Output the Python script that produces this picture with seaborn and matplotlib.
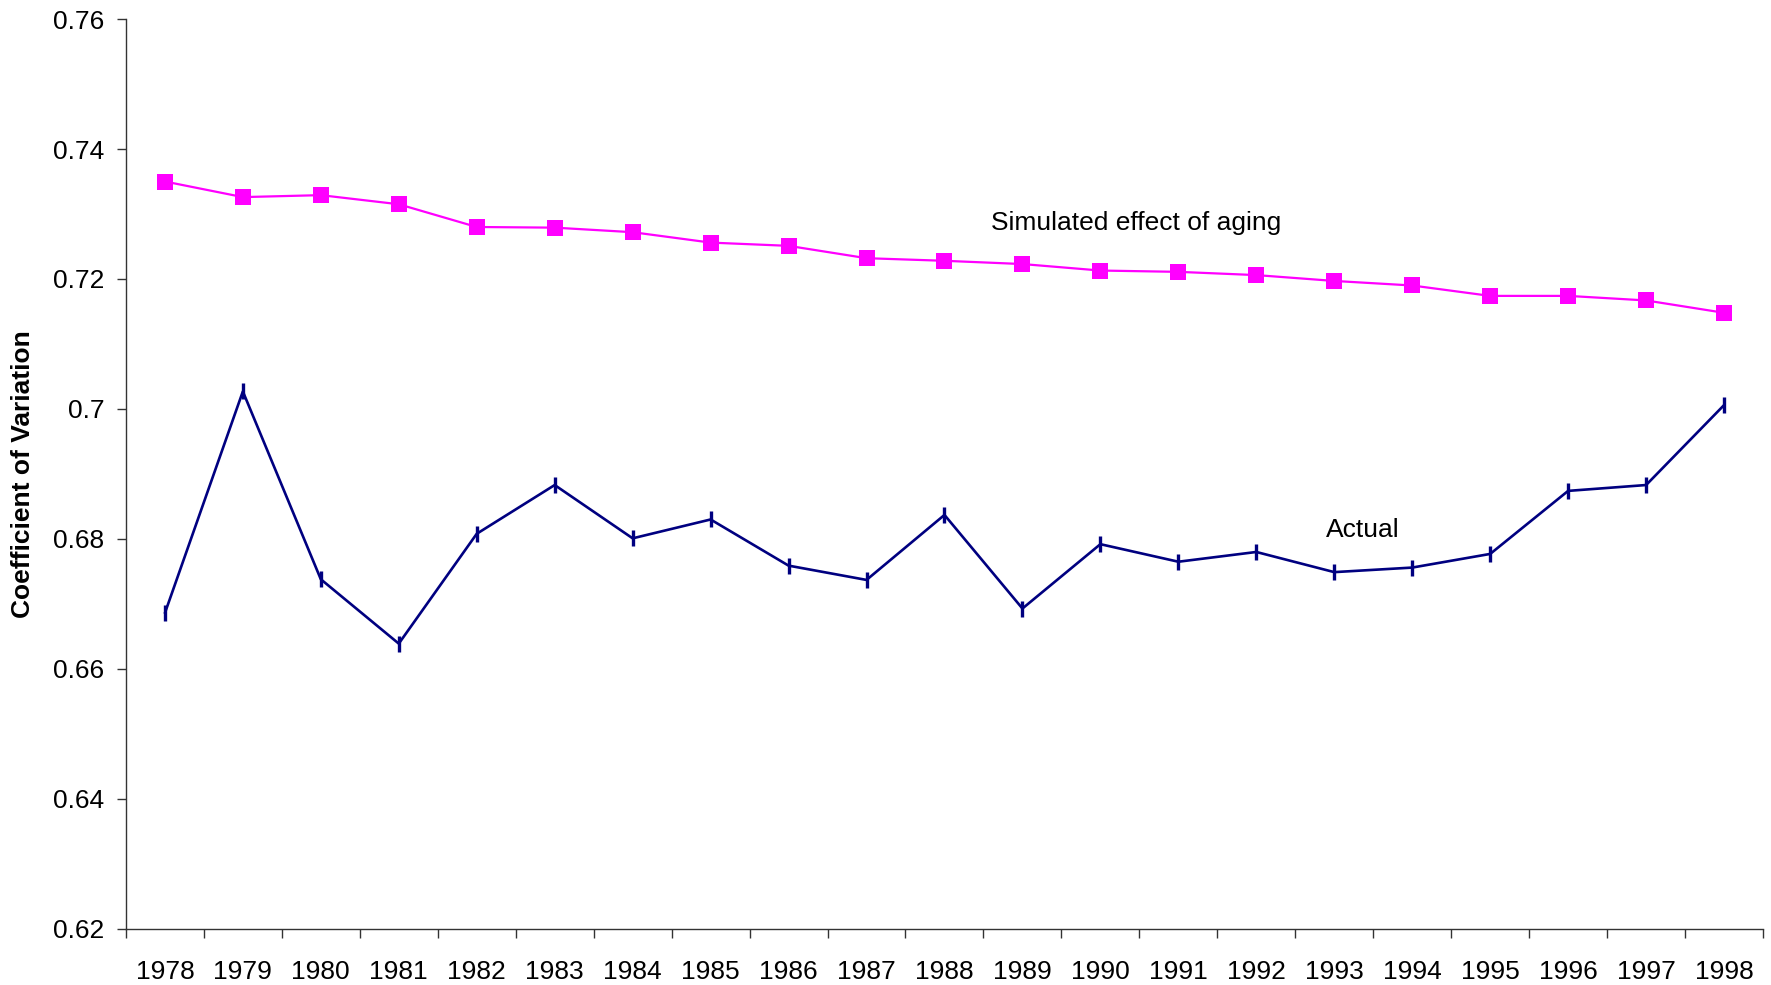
import numpy as np
import pandas as pd
import matplotlib
matplotlib.use("Agg")
import matplotlib.pyplot as plt
import seaborn as sns

years = list(range(1978, 1999))
aging = [0.7350, 0.7326, 0.7329, 0.7315, 0.7280, 0.7279, 0.7272, 0.7256, 0.7251, 0.7232, 0.7228,
         0.7223, 0.7213, 0.7211, 0.7206, 0.7197, 0.7190, 0.7174, 0.7174, 0.7167, 0.7148]
actual = [0.6686, 0.7027, 0.6738, 0.6639, 0.6808, 0.6883, 0.6801, 0.6830, 0.6759, 0.6737, 0.6837,
          0.6693, 0.6792, 0.6765, 0.6780, 0.6749, 0.6756, 0.6777, 0.6874, 0.6883, 0.7006]
y_ticks = [0.62, 0.64, 0.66, 0.68, 0.70, 0.72, 0.74, 0.76]
y_tick_labels = ["0.62", "0.64", "0.66", "0.68", "0.7", "0.72", "0.74", "0.76"]

sns.set_style("white")
plt.rcParams["font.family"] = ["Liberation Sans", "DejaVu Sans"]
plt.rcParams["text.color"] = "black"
plt.rcParams["xtick.color"] = "black"
plt.rcParams["ytick.color"] = "black"
plt.rcParams["axes.labelcolor"] = "black"

df = pd.DataFrame({"pos": np.arange(len(years)), "year": years, "aging": aging, "actual": actual})

fig = plt.figure(figsize=(17.71, 9.85), dpi=100)
ax = fig.add_axes([0.0711, 0.0569, 0.9244, 0.9238])

sns.lineplot(data=df, x="pos", y="aging", ax=ax, color="#FF00FF", linewidth=1.6,
             marker="s", markersize=11, markeredgewidth=0, markerfacecolor="#FF00FF")
sns.lineplot(data=df, x="pos", y="actual", ax=ax, color="#000080", linewidth=1.9,
             marker="|", markersize=11, markeredgewidth=2.4, markeredgecolor="#000080")

ax.set_xlim(-0.5, len(years) - 0.5)
ax.set_ylim(0.62, 0.76)
ax.set_yticks(y_ticks)
ax.set_yticklabels(y_tick_labels)
ax.set_xticks(df["pos"])
ax.set_xticklabels([str(y) for y in years])
ax.set_xticks(np.arange(len(years) + 1) - 0.5, minor=True)
ax.tick_params(axis="x", which="major", length=0, pad=22, labelsize=19)
ax.tick_params(axis="x", which="minor", length=6.5, width=1, color="#333333", direction="out")
ax.tick_params(axis="y", length=6.5, width=1, color="#333333", direction="out", labelsize=19, pad=9)
ax.tick_params(bottom=True, left=True, which="both")

for s in ["top", "right"]:
    ax.spines[s].set_visible(False)
for s in ["left", "bottom"]:
    ax.spines[s].set_color("#333333")
    ax.spines[s].set_linewidth(1)

ax.set_xlabel("")
ax.set_ylabel("Coefficient of Variation", fontsize=19, fontweight="bold")
ax.yaxis.set_label_coords(-0.0556, 0.5)

ax.text(12.46, 0.7286, "Simulated effect of aging", fontsize=19, ha="center", va="center")
ax.text(15.37, 0.6814, "Actual", fontsize=19, ha="center", va="center")

fig.savefig("out.png", dpi=100)
